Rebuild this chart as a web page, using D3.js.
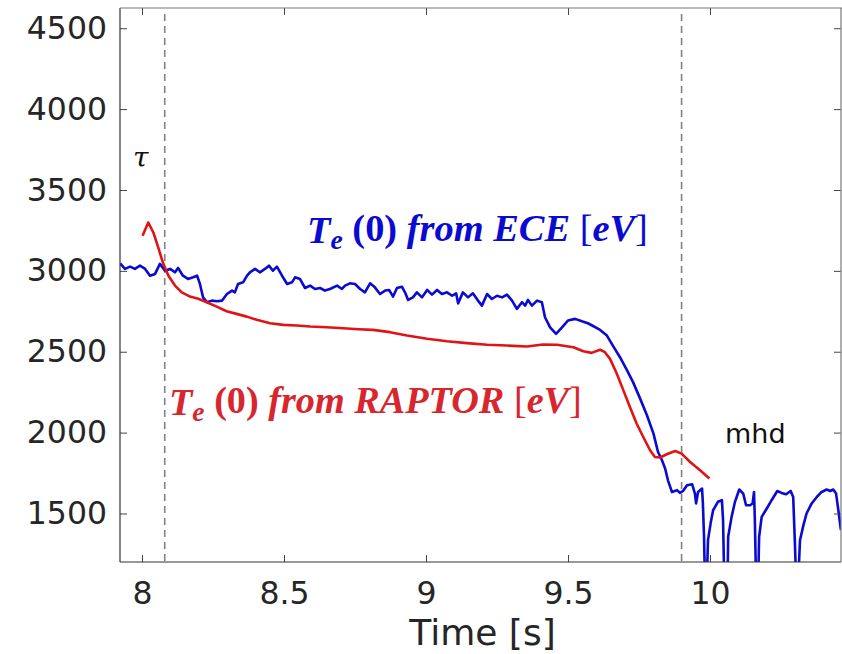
<!DOCTYPE html>
<html>
<head>
<meta charset="utf-8">
<script src="https://cdn.jsdelivr.net/npm/d3@7"></script>
<style>
  html, body { margin: 0; padding: 0; background: #fff; }
  svg { display: block; }
</style>
</head>
<body>
<svg id="chart" width="842" height="654"></svg>
<script>
// ---------- data ----------
const xTicks = [8, 8.5, 9, 9.5, 10];
const xTickLabels = ["8", "8.5", "9", "9.5", "10"];
const yTicks = [1500, 2000, 2500, 3000, 3500, 4000, 4500];
const yTickLabels = ["1500", "2000", "2500", "3000", "3500", "4000", "4500"];
const xDomain = [7.9225, 10.4613];
const yDomain = [1200, 4625];
const markerTimes = [8.08, 9.90];

// Te(0) from ECE [eV]
const eceTime = [7.923,7.940,7.958,7.975,7.993,8.011,8.028,8.046,8.063,8.081,8.099,8.116,8.127,8.144,8.162,8.180,8.194,8.204,8.215,8.229,8.246,8.264,8.282,8.299,8.317,8.327,8.338,8.356,8.370,8.380,8.398,8.415,8.433,8.447,8.461,8.475,8.493,8.511,8.528,8.539,8.556,8.574,8.592,8.609,8.627,8.644,8.662,8.687,8.704,
8.715,8.732,8.750,8.768,8.785,8.803,8.820,8.838,8.856,8.870,8.884,8.898,8.915,8.926,8.937,8.954,8.968,8.986,9.004,9.021,9.039,9.056,9.074,9.092,9.106,9.113,9.130,9.148,9.165,9.183,9.197,9.215,9.232,9.250,9.268,9.285,9.303,9.320,9.338,9.349,9.359,9.373,9.391,9.408,9.419,9.437,9.458,9.479,9.500,9.525,9.549,9.570,
9.585,9.613,9.637,9.658,9.683,9.708,9.729,9.754,9.778,9.801,9.817,9.831,9.842,9.852,9.866,9.884,9.894,
9.905,9.919,9.937,9.947,9.951,9.958,9.972,9.975,9.979,9.982,9.989,9.993,10.003,10.011,10.028,10.042,10.046,10.050,10.062,10.064,10.076,10.088,10.103,10.117,10.127,10.141,10.150,10.155,10.158,10.162,10.170,10.173,10.182,10.200,10.217,10.237,10.252,10.268,10.284,10.293,10.299,10.303,10.311,10.317,10.329,10.340,10.358,10.376,10.393,10.411,10.423,10.434,10.444,10.452,10.461];
const eceValue = [3046,3012,3026,3012,3032,3012,2970,2981,3043,3001,3012,2991,3018,2970,2950,2960,2970,2919,2836,2806,2816,2812,2816,2857,2878,2867,2919,2929,2970,2991,3012,2991,3012,3032,3001,3026,2970,2919,2929,2960,2950,2894,2909,2888,2894,2878,2888,2909,2888,
2909,2923,2919,2888,2867,2923,2898,2857,2878,2882,2841,2894,2902,2867,2820,2836,2867,2836,2882,2853,2882,2857,2867,2846,2861,2799,2867,2836,2861,2816,2785,2857,2826,2846,2836,2853,2816,2765,2806,2785,2820,2785,2816,2806,2713,2651,2611,2651,2693,2703,2688,2676,
2662,2635,2600,2538,2466,2384,2312,2210,2107,1994,1880,1829,1778,1705,1633,1644,1627,
1639,1675,1681,1623,1562,1633,1654,1562,1356,1100,1100,1335,1448,1520,1572,1582,1459,1100,1100,1356,1479,1572,1648,1623,1551,1551,1562,1633,1459,1100,1100,1356,1479,1531,1582,1639,1627,1619,1639,1602,1315,1100,1100,1335,1428,1500,1562,1602,1633,1648,1639,1648,1623,1520,1397];

// Te(0) from RAPTOR [eV]
const raptorTime = [8.002,8.022,8.040,8.057,8.075,8.093,8.116,8.140,8.169,8.198,8.228,8.263,8.298,8.333,8.369,8.404,8.451,8.498,8.545,8.592,8.650,8.709,8.762,8.813,8.873,8.933,9.004,9.074,9.144,9.215,9.285,9.356,9.412,9.461,9.519,9.554,9.583,9.613,9.630,9.648,9.672,9.695,9.718,9.742,9.765,9.789,9.806,9.824,9.848,9.877,9.900,9.930,9.965,9.998];
const raptorValue = [3217,3299,3237,3145,3043,2970,2909,2867,2841,2827,2806,2779,2750,2734,2717,2697,2676,2666,2662,2656,2651,2645,2639,2635,2621,2600,2580,2565,2553,2543,2538,2532,2545,2543,2528,2503,2493,2512,2497,2456,2364,2261,2158,2055,1973,1891,1849,1846,1866,1886,1870,1818,1767,1716];

// ---------- layout ----------
const L = 120, R = 841, T = 8, B = 562;
const svg = d3.select("#chart");
const x = d3.scaleLinear().domain(xDomain).range([L, R]);
const y = d3.scaleLinear().domain(yDomain).range([B, T]);

const axisColor = "#262626";
const fontSans = "'DejaVu Sans', Verdana, sans-serif";

svg.append("defs").append("clipPath").attr("id", "plotClip")
  .append("rect").attr("x", L).attr("y", T).attr("width", R - L).attr("height", B - T);

// dashed markers
svg.append("g").selectAll("line").data(markerTimes).join("line")
  .attr("x1", d => x(d)).attr("x2", d => x(d))
  .attr("y1", T + 6).attr("y2", B)
  .attr("stroke", "#808080").attr("stroke-width", 1.6)
  .attr("stroke-dasharray", "7,5");

// lines
const line = d3.line().x(d => x(d[0])).y(d => y(d[1]));
const ece = eceTime.map((t, i) => [t, eceValue[i]]);
const raptor = raptorTime.map((t, i) => [t, raptorValue[i]]);

const plot = svg.append("g").attr("clip-path", "url(#plotClip)");
plot.append("path").datum(ece).attr("d", line)
  .attr("fill", "none").attr("stroke", "#0a0ad0").attr("stroke-width", 2.6)
  .attr("stroke-linejoin", "round");
plot.append("path").datum(raptor).attr("d", line)
  .attr("fill", "none").attr("stroke", "#e01414").attr("stroke-width", 2.6)
  .attr("stroke-linejoin", "round");

// axes
const gx = svg.append("g").attr("transform", `translate(0,${B})`)
  .call(d3.axisBottom(x).tickValues(xTicks).tickFormat((d, i) => xTickLabels[i]).tickSize(-7).tickPadding(20));
const gxt = svg.append("g").attr("transform", `translate(0,${T})`)
  .call(d3.axisTop(x).tickValues(xTicks).tickFormat("").tickSize(-7));
const gy = svg.append("g").attr("transform", `translate(${L},0)`)
  .call(d3.axisLeft(y).tickValues(yTicks).tickFormat((d, i) => yTickLabels[i]).tickSize(-7).tickPadding(13));
const gyr = svg.append("g").attr("transform", `translate(${R},0)`)
  .call(d3.axisRight(y).tickValues(yTicks).tickFormat("").tickSize(-7));

[gx, gxt, gy, gyr].forEach(g => {
  g.select(".domain").remove();
  g.selectAll(".tick line").attr("stroke", "#444").attr("stroke-width", 1);
  g.selectAll(".tick text").attr("fill", axisColor)
    .style("font-family", fontSans).style("font-size", "31.5px");
});

// box
svg.append("line").attr("x1", L).attr("x2", L).attr("y1", T).attr("y2", B).attr("stroke", "#333").attr("stroke-width", 1.2);
svg.append("line").attr("x1", L).attr("x2", R).attr("y1", B).attr("y2", B).attr("stroke", "#333").attr("stroke-width", 1.2);
svg.append("line").attr("x1", L).attr("x2", 842).attr("y1", T).attr("y2", T).attr("stroke", "#777").attr("stroke-width", 1.2);
svg.append("line").attr("x1", R).attr("x2", R).attr("y1", T).attr("y2", B).attr("stroke", "#777").attr("stroke-width", 1.2);

// x-axis title
svg.append("text").attr("x", (L + R) / 2 + 2).attr("y", 645)
  .attr("text-anchor", "middle").attr("fill", axisColor)
  .style("font-family", fontSans).style("font-size", "36px")
  .text("Time [s]");

// annotations
svg.append("text").attr("x", 133).attr("y", 167)
  .style("font-family", "'DejaVu Serif', serif").style("font-style", "italic")
  .style("font-size", "28px").attr("fill", "#111").text("τ");

svg.append("text").attr("x", 725).attr("y", 443)
  .style("font-family", fontSans).style("font-size", "27px")
  .attr("fill", "#111").text("mhd");

function mathLabel(xPos, yPos, width, color, source) {
  const base = 34;
  const t = svg.append("text").attr("x", xPos).attr("y", yPos)
    .attr("fill", color)
    .style("font-family", "'Liberation Serif', 'Times New Roman', serif")
    .style("font-size", base + "px").style("font-weight", "bold");
  t.append("tspan").style("font-style", "italic").text("T");
  t.append("tspan").style("font-style", "italic").style("font-size", "0.72em").attr("dy", "0.22em").text("e");
  t.append("tspan").attr("dy", "-0.22em").text(" (0) ");
  t.append("tspan").style("font-style", "italic").text("from " + source + " ");
  t.append("tspan").style("font-weight", "normal").text("[");
  t.append("tspan").style("font-style", "italic").text("eV");
  t.append("tspan").style("font-weight", "normal").text("]");
  const w = t.node().getBBox().width;
  if (w > 0) t.style("font-size", (base * width / w).toFixed(2) + "px");
}
mathLabel(307, 243, 341, "#0a0ad0", "ECE");
mathLabel(169, 415, 413, "#d8262e", "RAPTOR");
</script>
</body>
</html>
